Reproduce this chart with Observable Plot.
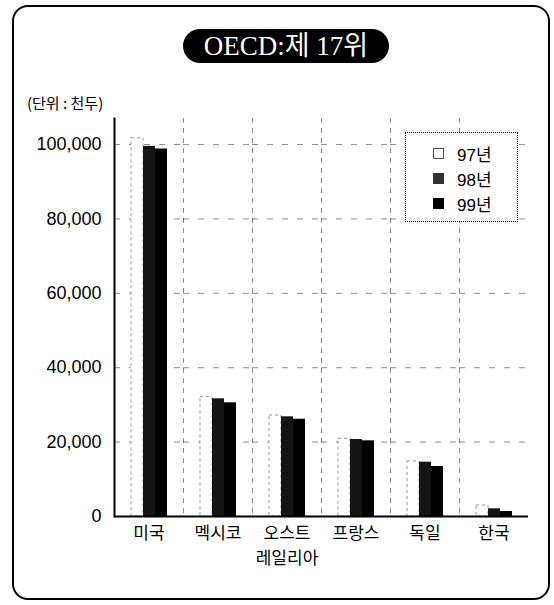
<!DOCTYPE html>
<html><head><meta charset="utf-8">
<script src="https://cdn.jsdelivr.net/npm/d3@7"></script>
<script src="https://cdn.jsdelivr.net/npm/@observablehq/plot@0.6"></script>
<style>
body{margin:0;background:#fff;}
#wrap{position:relative;width:554px;height:605px;font-family:"Liberation Sans","Noto Sans CJK KR",sans-serif;color:#000;}
#chart{position:absolute;left:0;top:0;}
#border{position:absolute;left:12px;top:5px;width:538px;height:595px;border:2px solid #000;border-radius:16px;box-sizing:border-box;pointer-events:none;}
#title{position:absolute;left:183px;top:29px;width:206px;height:34px;background:#000;border-radius:17px;color:#fff;font-family:"Liberation Serif","Noto Sans CJK KR",serif;font-size:27px;line-height:34px;text-align:center;white-space:nowrap;}
#unit{position:absolute;left:27px;top:92px;font-size:15px;line-height:22px;font-family:"Noto Sans CJK KR","Liberation Sans",sans-serif;}
#legend{position:absolute;left:405px;top:132px;width:113px;height:90px;border:1.5px dotted #000;background:#fff;box-sizing:border-box;padding-top:8px;}
.item{display:flex;align-items:center;height:25px;padding-left:27px;font-size:17px;}
.sw{width:11px;height:11px;margin-right:13px;box-sizing:border-box;}
</style></head>
<body>
<div id="wrap">
  <div id="chart"></div>
  <div id="border"></div>
  <div id="title"></div>
  <div id="unit"></div>
  <div id="legend"></div>
</div>
<script>
const titleText = "OECD:제 17위";
const unitText = "(단위 : 천두)";
const countries = ["미국", "멕시코", "오스트레일리아", "프랑스", "독일", "한국"];
const countryLabels = ["미국", "멕시코", "오스트\n레일리아", "프랑스", "독일", "한국"];
const years = ["97년", "98년", "99년"];
const v97 = [101700, 32070, 27150, 20880, 14800, 2950];
const v98 = [99500, 31640, 26800, 20700, 14600, 2070];
const v99 = [98800, 30560, 26150, 20340, 13440, 1340];
const yTicks = [0, 20000, 40000, 60000, 80000, 100000];
const yearColors = ["#ffffff", "#141414", "#000000"];

const series = [v97, v98, v99];
const data = countries.flatMap((c, i) => years.map((y, j) => ({country: c, year: y, value: series[j][i]})));

document.getElementById("title").textContent = titleText;
document.getElementById("unit").textContent = unitText;
const leg = document.getElementById("legend");
years.forEach((y, j) => {
  const it = document.createElement("div"); it.className = "item";
  const sw = document.createElement("span"); sw.className = "sw";
  sw.style.background = j === 1 ? "#333" : yearColors[j];
  sw.style.border = j === 0 ? "1px solid #555" : "none";
  it.appendChild(sw);
  it.appendChild(document.createTextNode(y));
  leg.appendChild(it);
});

const fmt = d3.format(",");
const plot = Plot.plot({
  width: 554, height: 605,
  marginTop: 118, marginBottom: 89, marginLeft: 113, marginRight: 25,
  style: {fontFamily: "'Liberation Sans','Noto Sans CJK KR',sans-serif", background: "transparent", color: "#000"},
  fx: {domain: countries, padding: 0, label: null},
  x: {domain: years, paddingInner: 0, paddingOuter: 1.31, axis: null},
  y: {domain: [0, 107000], label: null},
  color: {domain: years, range: yearColors},
  marks: [
    Plot.gridY(yTicks.filter(d => d > 0), {stroke: "#000", strokeOpacity: 0.45, strokeDasharray: "6,9"}),
    Plot.frame({anchor: "left", stroke: "#000", strokeOpacity: 0.45, strokeDasharray: "4,6"}),
    Plot.barY(data.filter(d => d.year === years[0]), {fx: "country", x: "year", y: "value", fill: "year", stroke: "#999", strokeDasharray: "3,3", inset: 0}),
    Plot.barY(data.filter(d => d.year !== years[0]), {fx: "country", x: "year", y: "value", fill: "year", inset: 0}),
    Plot.axisY(yTicks, {tickSize: 0, tickPadding: 13, fontSize: 18, tickFormat: fmt, label: null}),
    Plot.axisFx({anchor: "bottom", tickSize: 0, tickPadding: 5, fontSize: 17, lineHeight: 1.45, label: null,
      tickFormat: d => countryLabels[countries.indexOf(d)]}),
    Plot.frame({anchor: "left", facetAnchor: "left", stroke: "#000", strokeWidth: 2}),
    Plot.ruleY([0], {stroke: "#000", strokeWidth: 2})
  ]
});
document.getElementById("chart").appendChild(plot);
</script>
</body></html>
